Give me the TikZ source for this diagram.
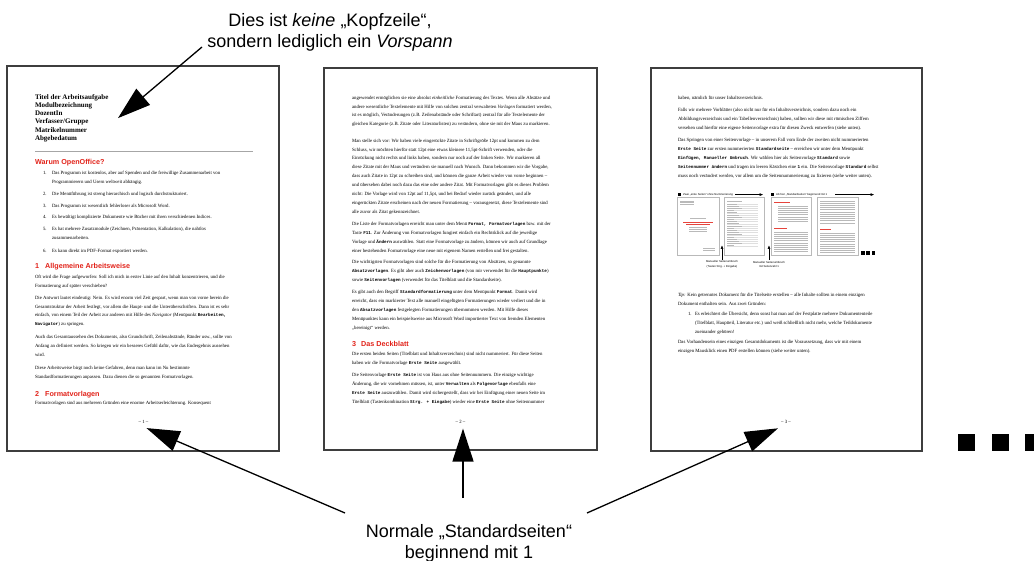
\documentclass[tikz,border=0pt]{standalone}
\usepackage{fontspec}
\setmainfont{Liberation Sans}
\newfontfamily\bodyf{Liberation Serif}
\newfontfamily\codef{Liberation Mono}[Scale=0.9]
\usetikzlibrary{arrows.meta}
\definecolor{hred}{RGB}{226,35,26}
\definecolor{pframe}{RGB}{62,62,62}
\newcommand\cw[1]{{\codef\bfseries #1}}
\newcommand\btxt{\bodyf\fontsize{4.8}{8.9}\selectfont}
\newcommand\pbx[1]{\parbox[t]{250pt}{\raggedright #1}}
\tikzset{
  page/.style={draw=pframe, line width=2pt, fill=white, inner sep=0pt, outer sep=0pt, anchor=north west},
  body/.style={anchor=base west, inner sep=0pt, outer sep=0pt, font=\btxt},
  head/.style={anchor=base west, inner sep=0pt, font=\fontsize{7.2}{9}\selectfont\bfseries, text=hred},
  pnum/.style={inner sep=0pt, outer sep=5pt, font=\btxt},
  bigarrow/.style={line width=1.3pt, -{Triangle[length=33pt,width=21pt]}},
  biglabel/.style={anchor=base, inner sep=0pt, font=\fontsize{18}{21}\selectfont},
  thumb/.style={draw=gray!55, line width=0.5pt, fill=white, inner sep=0pt, outer sep=0pt, anchor=north west, minimum height=58pt},
  tl/.style={gray!55, line width=0.6pt},
  tl2/.style={gray!25, line width=0.5pt},
  rl/.style={hred!85, line width=0.8pt},
  tinytxt/.style={inner sep=0pt, font=\fontsize{2.8}{4.6}\selectfont},
  smallarrow/.style={line width=0.5pt, -{Triangle[length=3.5pt,width=2.6pt]}},
}
\begin{document}
\begin{tikzpicture}[x=1pt,y=-1pt]
\useasboundingbox[fill=white] (0,0) rectangle (1034,561);

% ---------------- Page 1 ----------------
\node[page, minimum width=272pt, minimum height=385pt] (p1) at (7,66) {};
\node[anchor=base west, inner sep=0pt, outer sep=0pt,
      font=\bodyf\fontsize{7}{8.2}\selectfont\bfseries] (title) at (35,99.3)
  {\parbox[t]{83pt}{\raggedright Titel der Arbeitsaufgabe\\Modulbezeichnung\\DozentIn\\Verfasser/Gruppe\\Matrikelnummer\\Abgebedatum}};
\draw[gray!70, line width=0.6pt] (35,151) -- (253,151);
\node[head] (h0) at (35,164.7) {Warum OpenOffice?};
\node[body] (l1) at (43,174.2) {\pbx{\makebox[9pt][l]{1.}Das Programm ist kostenlos, aber auf Spenden und die freiwillige Zusammenarbeit von\\\hspace*{9pt}Programmierern und Usern weltweit abhängig.}};
\node[body] (l2) at (43,195.5) {\makebox[9pt][l]{2.}Die Menüführung ist streng hierarchisch und logisch durchstrukturiert.};
\node[body] (l3) at (43,207.2) {\makebox[9pt][l]{3.}Das Programm ist wesentlich fehlerloser als Microsoft Word.};
\node[body] (l4) at (43,218.8) {\makebox[9pt][l]{4.}Es bewältigt komplizierte Dokumente wie Bücher mit ihren verschiedenen Indices.};
\node[body] (l5) at (43,230.8) {\pbx{\makebox[9pt][l]{5.}Es hat mehrere Zusatzmodule (Zeichnen, Präsentation, Kalkulation), die nahtlos\\\hspace*{9pt}zusammenarbeiten.}};
\node[body] (l6) at (43,252.5) {\makebox[9pt][l]{6.}Es kann direkt im PDF-Format exportiert werden.};
\node[head] (h1) at (35,268.7) {\makebox[10pt][l]{1}Allgemeine Arbeitsweise};
\node[body] (a1) at (35,278.5) {\pbx{Oft wird die Frage aufgeworfen: Soll ich mich in erster Linie auf den Inhalt konzentrieren, und die\\
Formatierung auf später verschieben?}};
\node[body] (a2) at (35,299.2) {\pbx{Die Antwort lautet eindeutig: Nein. Es wird enorm viel Zeit gespart, wenn man von vorne herein die\\
Gesamtstruktur der Arbeit festlegt, vor allem die Haupt- und die Unterüberschriften. Dann ist es sehr\\
einfach, von einem Teil der Arbeit zur anderen mit Hilfe des \emph{Navigator} (Menüpunkt \cw{Bearbeiten,}\\
\cw{Navigator}) zu springen.}};
\node[body] (a3) at (35,338.8) {\pbx{Auch das Gesamtaussehen des Dokuments, also Grundschrift, Zeilenabstände, Ränder usw., sollte von\\
Anfang an definiert werden. So kriegen wir ein besseres Gefühl dafür, wie das Endergebnis aussehen\\
wird.}};
\node[body] (a4) at (35,369.2) {\pbx{Diese Arbeitsweise birgt noch keine Gefahren, denn man kann im Nu bestimmte\\
Standardformatierungen anpassen. Dazu dienen die so genannten Formatvorlagen.}};
\node[head] (h2) at (35,396) {\makebox[10pt][l]{2}Formatvorlagen};
\node[body] (a5) at (35,404.8) {Formatvorlagen sind aus mehreren Gründen eine enorme Arbeitserleichterung. Konsequent};
\node[pnum] (pn1) at (143.5,421.5) {– 1 –};

% ---------------- Page 2 ----------------
\node[page, minimum width=273pt, minimum height=382pt] (p2) at (324,68) {};
\node[body] (b1) at (352,99.2) {\pbx{angewendet ermöglichen sie eine absolut \emph{einheitliche} Formatierung des Textes. Wenn alle Absätze und\\
andere wesentliche Textelemente mit Hilfe von solchen zentral verwalteten \emph{Vorlagen} formatiert werden,\\
ist es möglich, Veränderungen (z.B. Zeilenabstände oder Schriftart) zentral für alle Textelemente der\\
gleichen Kategorie (z.B. Zitate oder Literaturlisten) zu verändern, ohne sie mit der Maus zu markieren.}};
\node[body] (b2) at (352,142.2) {\pbx{Man stelle sich vor: Wir haben viele eingerückte Zitate in Schriftgröße 12pt und kommen zu dem\\
Schluss, wir möchten hierfür statt 12pt eine etwas kleinere 11,5pt-Schrift verwenden, oder die\\
Einrückung nicht rechts und links haben, sondern nur noch auf der linken Seite. Wir markieren all\\
diese Zitate mit der Maus und verändern sie manuell nach Wunsch. Dann bekommen wir die Vorgabe,\\
dass auch Zitate in 12pt zu schreiben sind, und können die ganze Arbeit wieder von vorne beginnen –\\
und übersehen dabei noch dazu das eine oder andere Zitat. Mit Formatvorlagen gibt es dieses Problem\\
nicht: Die Vorlage wird von 12pt auf 11,5pt, und bei Bedarf wieder zurück geändert, und alle\\
eingerückten Zitate erscheinen nach der neuen Formatierung – vorausgesetzt, diese Textelemente sind\\
alle zuvor als Zitat gekennzeichnet.}};
\node[body] (b3) at (352,225.5) {\pbx{Die Liste der Formatvorlagen erreicht man unter dem Menü \cw{Format, Formatvorlagen} bzw. mit der\\
Taste \cw{F11}. Zur Änderung von Formatvorlagen fungiert einfach ein Rechtsklick auf die jeweilige\\
Vorlage und \cw{Ändern} auswählen. Statt eine Formatvorlage zu ändern, können wir auch auf Grundlage\\
einer bestehenden Formatvorlage eine neue mit eigenem Namen erstellen und frei gestalten.}};
\node[body] (b4) at (352,263.8) {\pbx{Die wichtigsten Formatvorlagen sind solche für die Formatierung von Absätzen, so genannte\\
\cw{Absatzvorlagen}. Es gibt aber auch \cw{Zeichenvorlagen} (von mir verwendet für die \cw{Hauptpunkte})\\
sowie \cw{Seitenvorlagen} (verwendet für das Titelblatt und die Standardseite).}};
\node[body] (b5) at (352,293.8) {\pbx{Es gibt auch den Begriff \cw{Standardformatierung} unter dem Menüpunkt \cw{Format}. Damit wird\\
erreicht, dass ein markierter Text alle manuell eingefügten Formatierungen wieder verliert und die in\\
den \cw{Absatzvorlagen} festgelegten Formatierungen übernommen werden. Mit Hilfe dieses\\
Menüpunktes kann ein beispielsweise aus Microsoft Word importierter Text von fremden Elementen\\
„bereinigt“ werden.}};
\node[head] (h3) at (352,347) {\makebox[9pt][l]{3}Das Deckblatt};
\node[body] (b6) at (352,355.8) {\pbx{Die ersten beiden Seiten (Titelblatt und Inhaltsverzeichnis) sind nicht nummeriert. Für diese Seiten\\
haben wir die Formatvorlage \cw{Erste Seite} ausgewählt.}};
\node[body] (b7) at (352,376.8) {\pbx{Die Seitenvorlage \cw{Erste Seite} ist von Haus aus ohne Seitennummern. Die einzige wichtige\\
Änderung, die wir vornehmen müssen, ist, unter \cw{Verwalten} als \cw{Folgevorlage} ebenfalls eine\\
\cw{Erste Seite} auszuwählen. Damit wird sichergestellt, dass wir bei Einfügung einer neuen Seite im\\
Titelblatt (Tastenkombination \cw{Strg. + Eingabe}) wieder eine \cw{Erste Seite} ohne Seitennummer}};
\node[pnum] (pn2) at (460.5,422) {– 2 –};

% ---------------- Page 3 ----------------
\node[page, minimum width=271pt, minimum height=383pt] (p3) at (651,68) {};
\node[body] (c1) at (678,99.8) {haben, nämlich für unser Inhaltsverzeichnis.};
\node[body] (c2) at (678,111.5) {\pbx{Falls wir mehrere Vorblätter (also nicht nur für ein Inhaltsverzeichnis, sondern dazu noch ein\\
Abbildungsverzeichnis und ein Tabellenverzeichnis) haben, sollten wir diese mit römischen Ziffern\\
versehen und hierfür eine eigene Seitenvorlage extra für diesen Zweck entwerfen (siehe unten).}};
\node[body] (c3) at (678,141.5) {\pbx{Das Springen von einer Seitenvorlage – in unserem Fall vom Ende der zweiten nicht nummerierten\\
\cw{Erste Seite} zur ersten nummerierten \cw{Standardseite} – erreichen wir unter dem Menüpunkt\\
\cw{Einfügen, Manueller Umbruch}. Wir wählen hier als Seitenvorlage \cw{Standard} sowie\\
\cw{Seitennummer ändern} und tragen im leeren Kästchen eine \cw{1} ein. Die Seitenvorlage \cw{Standard} selbst\\
muss noch verändert werden, vor allem um die Seitennummerierung zu fixieren (siehe weiter unten).}};

% mini figure
\fill (678,193) rectangle ++(3.2,3.2);
\node[tinytxt, anchor=west] (lr1) at (683,194.6) {Zwei „erste Seiten“ ohne Nummerierung};
\coordinate (lr1e) at (763,194.6);
\draw[smallarrow] ([xshift=2pt]lr1.east) -- (lr1e);
\fill (771,193) rectangle ++(3.2,3.2);
\node[tinytxt, anchor=west] (lr2) at (776,194.6) {Ab hier „Standardseiten“ beginnend mit 1};
\coordinate (lr2e) at (874,194.6);
\draw[smallarrow] ([xshift=8pt]lr2.east) -- (lr2e);

\node[thumb, minimum width=42pt] (t1) at (677,197) {};
\node[thumb, minimum width=40pt] (t2) at (724,197) {};
\node[thumb, minimum width=40pt] (t3) at (771,197) {};
\node[thumb, minimum width=41pt] (t4) at (817,197) {};
% thumb 1
\foreach \y in {201,202.8,204.6} \draw[tl] (680,\y) -- (694,\y);
\draw[tl] (690,218.5) -- (706,218.5);
\draw[rl] (683,222) -- (713,222);
\draw[rl] (686,224.3) -- (710,224.3);
\foreach \y in {227,229,231} \draw[tl] (689,\y) -- (707,\y);
\foreach \y in {248,250} \draw[tl] (703,\y) -- (715,\y);
% thumb 2
\draw[tl] (727,201) -- (742,201);
\foreach \y [count=\i] in {204,206.2,...,246} {
  \draw[tl2] (727,\y) -- (758,\y);
  \draw[tl] (727,\y) -- ++({7+mod(\i,4)*2.5},0);
}
% thumb 3
\draw[rl] (774,202.5) -- (790,202.5);
\foreach \y in {206,208.2,...,223} \draw[tl] (778,\y) -- (808,\y);
\draw[rl] (774,228.5) -- (787,228.5);
\foreach \y in {232,234.2,...,253} \draw[tl] (774,\y) -- (808,\y);
% thumb 4
\foreach \y in {201,203.2,...,224} \draw[tl] (820,\y) -- (855,\y);
\draw[rl] (820,229.5) -- (831,229.5);
\foreach \y in {233,235.2,...,253} \draw[tl] (820,\y) -- (855,\y);
\foreach \x in {861,866.3,871.6} \fill (\x,251.3) rectangle ++(3.6,3.6);

\node[tinytxt, align=center] (cap1) at (722,264.5) {Manueller Seitenumbruch\\(Tasten Strg. + Eingabe)};
\node[tinytxt, align=center] (cap2) at (769,264.5) {Manueller Seitenumbruch\\mit Seitenzahl 1};
\coordinate (u1) at (722,245.5);
\coordinate (u2) at (769,245.5);
\draw[smallarrow] ([yshift=1pt]cap1.north) -- (u1);
\draw[smallarrow] ([yshift=1pt]cap2.north) -- (u2);

\node[body] (c4) at (678,296.5) {\pbx{\emph{Tip:} Kein getrenntes Dokument für die Titelseite erstellen – alle Inhalte sollten in einem einzigen\\
Dokument enthalten sein. Aus zwei Gründen:}};
\node[body] (c5) at (688,315.8) {\pbx{\makebox[7pt][l]{1.}Es erleichtert die Übersicht, denn sonst hat man auf der Festplatte mehrere Dokumententeile\\
\hspace*{7pt}(Titelblatt, Hauptteil, Literatur etc.) und weiß schließlich nicht mehr, welche Teildokumente\\
\hspace*{7pt}zueinander gehören!}};
\node[body] (c6) at (678,343.2) {\pbx{Das Vorhandensein eines einzigen Gesamtdokuments ist die Voraussetzung, dass wir mit einem\\
einzigen Mausklick einen PDF erstellen können (siehe weiter unten).}};
\node[pnum] (pn3) at (786,421.7) {– 3 –};

% big ellipsis
\foreach \x in {958,991.5,1025} \fill (\x,433.5) rectangle ++(17,17.5);

% ---------------- labels and arrows ----------------
\node[biglabel] (tlab) at (330,27) {\parbox[t]{320pt}{\centering Dies ist \textit{keine} „Kopfzeile“,\\sondern lediglich ein \textit{Vorspann}}};
\node[biglabel] (blab) at (469,537.5) {\parbox[t]{300pt}{\centering Normale „Standardseiten“\\beginnend mit 1}};
\coordinate (s0) at (202,47);
\coordinate (s1) at (345,513);
\coordinate (s2) at (463,498);
\coordinate (s3) at (587,513);
\draw[bigarrow] (s0) -- (title.east);
\draw[bigarrow] (s1) -- ([xshift=3pt]pn1.south);
\draw[bigarrow] (s2) -- (s2 |- pn2.south);
\draw[bigarrow] (s3) -- ([xshift=-8pt]pn3.south);
\end{tikzpicture}
\end{document}
